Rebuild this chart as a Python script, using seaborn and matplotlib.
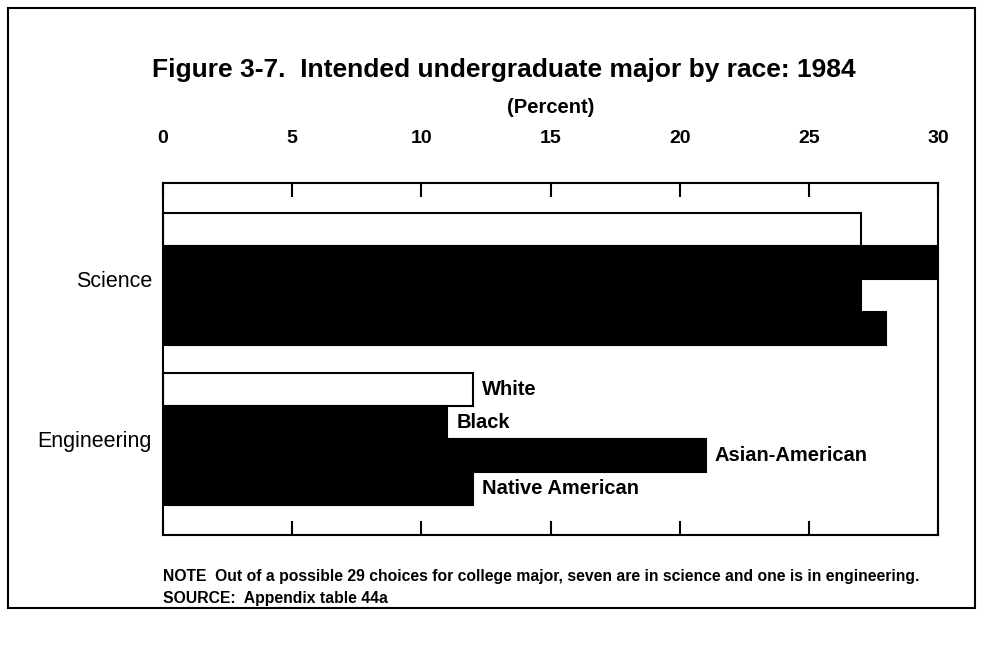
import matplotlib
matplotlib.use('Agg')
import matplotlib.pyplot as plt
import seaborn as sns
import pandas as pd
from matplotlib.patches import Rectangle

# data
majors = ['Science', 'Engineering']
races = ['White', 'Black', 'Asian-American', 'Native American']
science_pct = [27, 30, 27, 28]
engineering_pct = [12, 11, 21, 12]
x_ticks = [0, 5, 10, 15, 20, 25, 30]

rows = []
for r, s, e in zip(races, science_pct, engineering_pct):
    rows.append({'major': 'Science', 'race': r, 'pct': s})
    rows.append({'major': 'Engineering', 'race': r, 'pct': e})
df = pd.DataFrame(rows)

sns.set_style('white')
plt.rcParams['font.family'] = ['Liberation Sans', 'DejaVu Sans']
plt.rcParams['text.color'] = 'black'
plt.rcParams['axes.labelcolor'] = 'black'
plt.rcParams['xtick.color'] = 'black'
plt.rcParams['ytick.color'] = 'black'

fig = plt.figure(figsize=(9.85, 6.45), dpi=100)
ax = fig.add_axes([163 / 985, 1 - 535 / 645, (938 - 163) / 985, (535 - 183) / 645])

palette = {'White': 'white', 'Black': 'black',
           'Asian-American': 'black', 'Native American': 'black'}
sns.barplot(data=df, y='major', x='pct', hue='race', order=majors,
            hue_order=races, palette=palette, orient='h', width=0.82,
            edgecolor='black', linewidth=1.5, legend=False, ax=ax,
            saturation=1)

ax.set_xlim(0, 30)
ax.set_ylim(1.6, -0.6)
ax.set_xticks(x_ticks)
ax.xaxis.set_ticks_position('both')
ax.xaxis.set_label_position('top')
ax.tick_params(axis='x', direction='in', length=10, width=1.5,
               labeltop=True, labelbottom=False, labelsize=14, pad=26)
for t in ax.get_xticklabels():
    t.set_fontweight('bold')
ax.tick_params(axis='y', length=0, labelsize=15.5, pad=8)
ax.set_xlabel('(Percent)', fontsize=14.5, fontweight='bold', labelpad=12)
ax.set_ylabel('')
for sp in ax.spines.values():
    sp.set_visible(True)
    sp.set_linewidth(1.5)
    sp.set_color('black')

# race labels next to the engineering bars
for cont, race in zip(ax.containers, races):
    bar = cont.patches[1]
    ax.text(bar.get_width() + 0.35, bar.get_y() + bar.get_height() / 2, race,
            ha='left', va='center', fontsize=14.5, fontweight='bold')

fig.text(504 / 985, 1 - 70 / 645, 'Figure 3-7.  Intended undergraduate major by race: 1984',
         ha='center', va='center', fontsize=19, fontweight='bold')
fig.text(163 / 985, 1 - 577 / 645,
         'NOTE  Out of a possible 29 choices for college major, seven are in science and one is in engineering.',
         ha='left', va='center', fontsize=11.3, fontweight='bold')
fig.text(163 / 985, 1 - 598 / 645, 'SOURCE:  Appendix table 44a',
         ha='left', va='center', fontsize=11.3, fontweight='bold')

# outer frame
fig.patches.append(Rectangle((8 / 985, 1 - 608 / 645), (975 - 8) / 985, (608 - 8) / 645,
                             transform=fig.transFigure, fill=False,
                             edgecolor='black', linewidth=1.5))

fig.savefig('out.png', dpi=100)
